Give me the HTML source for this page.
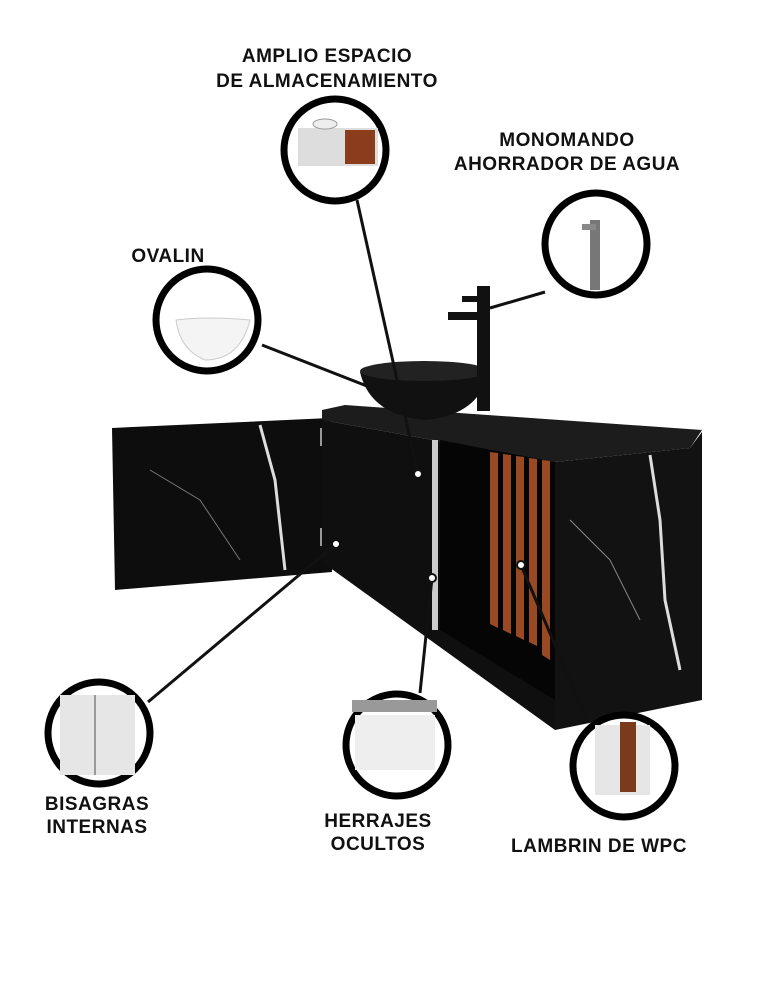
<!DOCTYPE html>
<html><head><meta charset="utf-8"><style>
html,body{margin:0;padding:0;background:#fff;}
svg{display:block;}
text{font-family:"Liberation Sans",sans-serif;font-weight:bold;font-size:19px;letter-spacing:0.5px;fill:#111;text-anchor:middle;}
</style></head><body>
<svg width="774" height="1000" viewBox="0 0 774 1000">
<!-- labels -->
<text x="327" y="62">AMPLIO ESPACIO</text>
<text x="327" y="87">DE ALMACENAMIENTO</text>
<text x="567" y="146">MONOMANDO</text>
<text x="567" y="170">AHORRADOR DE AGUA</text>
<text x="168" y="262">OVALIN</text>
<text x="97" y="810">BISAGRAS</text>
<text x="97" y="833">INTERNAS</text>
<text x="378" y="827">HERRAJES</text>
<text x="378" y="850">OCULTOS</text>
<text x="599" y="852">LAMBRIN DE WPC</text>

<!-- cabinet -->
<polygon points="112,428 330,418 332,572 115,590" fill="#0d0d0d"/>
<polyline points="260,425 275,480 285,570" stroke="#ddd" stroke-width="3" fill="none"/>
<polyline points="150,470 200,500 240,560" stroke="#777" stroke-width="1" fill="none"/>
<rect x="320" y="428" width="12" height="18" fill="#999"/>
<rect x="320" y="528" width="12" height="18" fill="#999"/>
<polygon points="322,410 345,405 702,430 690,448 555,462 322,420" fill="#1c1c1c"/>
<polygon points="322,420 555,462 555,730 322,562" fill="#0f0f0f"/>
<polygon points="440,440 555,462 555,700 440,630" fill="#050505"/>
<polygon points="555,462 690,448 702,432 702,700 555,730" fill="#121212"/>
<polyline points="650,455 660,520 665,600 680,670" stroke="#ddd" stroke-width="3" fill="none"/>
<polyline points="570,520 610,560 640,620" stroke="#888" stroke-width="1" fill="none"/>
<g fill="#9a4a22">
<polygon points="490,452 498,453 498,628 490,624"/>
<polygon points="503,454 511,455 511,634 503,630"/>
<polygon points="516,456 524,457 524,640 516,636"/>
<polygon points="529,458 537,459 537,646 529,642"/>
<polygon points="542,460 550,461 550,660 542,655"/>
</g>
<rect x="432" y="440" width="6" height="190" fill="#ccc"/>
<!-- sink -->
<path d="M360,372 Q425,360 488,372 Q480,415 425,420 Q370,415 360,372Z" fill="#111"/>
<ellipse cx="424" cy="371" rx="64" ry="10" fill="#222"/>
<!-- faucet -->
<rect x="477" y="286" width="13" height="125" fill="#111"/>
<rect x="448" y="312" width="32" height="8" fill="#111"/>
<rect x="462" y="296" width="18" height="6" fill="#111"/>

<!-- connectors -->
<g stroke="#111" stroke-width="3">
<line x1="357" y1="200" x2="418" y2="474"/>
<line x1="545" y1="292" x2="490" y2="308"/>
<line x1="262" y1="345" x2="372" y2="388"/>
<line x1="148" y1="702" x2="336" y2="544"/>
<line x1="420" y1="693" x2="432" y2="578"/>
<line x1="586" y1="718" x2="521" y2="565"/>
</g>
<g fill="#fff" stroke="#111" stroke-width="2">
<circle cx="418" cy="474" r="4"/><circle cx="336" cy="544" r="4"/>
<circle cx="432" cy="578" r="4"/><circle cx="521" cy="565" r="4"/>
</g>

<!-- callout circles -->
<g stroke="#000" stroke-width="7" fill="#fff">
<circle cx="335" cy="150" r="51"/>
<circle cx="596" cy="244" r="51"/>
<circle cx="207" cy="320" r="51"/>
<circle cx="99" cy="733" r="51"/>
<circle cx="397" cy="745" r="51"/>
<circle cx="624" cy="766" r="51"/>
</g>
<!-- circle contents -->
<rect x="298" y="128" width="80" height="38" fill="#ddd"/>
<rect x="345" y="130" width="30" height="34" fill="#8a3c1c"/>
<ellipse cx="325" cy="124" rx="12" ry="5" fill="#eee" stroke="#999"/>
<rect x="590" y="220" width="10" height="70" fill="#777"/>
<rect x="582" y="224" width="14" height="6" fill="#888"/>
<path d="M176,320 Q207,316 250,320 Q240,360 205,360 Q180,350 176,320Z" fill="#f4f4f4" stroke="#ccc"/>
<rect x="60" y="695" width="75" height="80" fill="#e6e6e6"/>
<line x1="95" y1="695" x2="95" y2="775" stroke="#999" stroke-width="2"/>
<rect x="355" y="715" width="80" height="55" fill="#eee"/>
<rect x="352" y="700" width="85" height="12" fill="#999"/>
<rect x="595" y="725" width="55" height="70" fill="#e6e6e6"/>
<rect x="620" y="722" width="16" height="70" fill="#7a3a1c"/>
</svg>
</body></html>
